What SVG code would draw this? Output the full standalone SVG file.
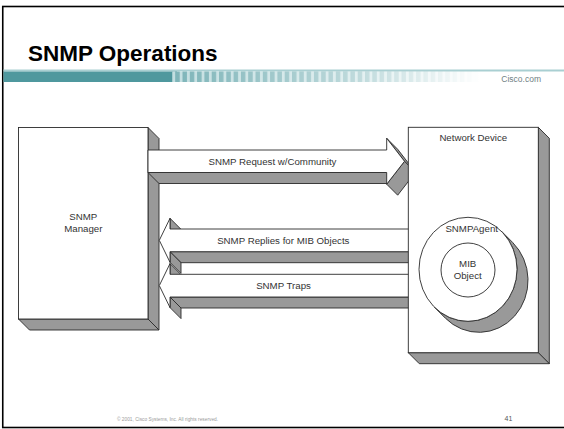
<svg xmlns="http://www.w3.org/2000/svg" width="564" height="429" viewBox="0 0 564 429">
  <defs>
    <style>
      .lbl{font-family:"Liberation Sans",Arial,sans-serif;font-size:9.7px;fill:#333;text-anchor:middle}
      .face{fill:#fff;stroke:#2a2a2a;stroke-width:0.9}
      .depth{fill:#999;stroke:#2a2a2a;stroke-width:0.9}
    </style>
    <pattern id="stripes" x="0" y="0" width="7.3" height="20" patternUnits="userSpaceOnUse">
      <rect width="7.3" height="20" fill="#c4dfe1"/>
      <rect width="4.5" height="20" fill="#7db4b8"/>
    </pattern>
    <linearGradient id="fade" x1="172" y1="0" x2="480" y2="0" gradientUnits="userSpaceOnUse">
      <stop offset="0" stop-color="#fff" stop-opacity="1"/>
      <stop offset="0.6" stop-color="#fff" stop-opacity="0.5"/>
      <stop offset="1" stop-color="#fff" stop-opacity="0"/>
    </linearGradient>
    <mask id="fadeMask" maskUnits="userSpaceOnUse" x="160" y="60" width="340" height="30">
      <rect x="160" y="60" width="340" height="30" fill="url(#fade)"/>
    </mask>
  </defs>

  <rect width="564" height="429" fill="#fff"/>

  <!-- slide frame -->
  <rect x="2.75" y="6.5" width="575" height="421" fill="none" stroke="#000" stroke-width="1.6"/>

  <!-- title and banner -->
  <text x="28" y="60.5" font-family="'Liberation Sans',Arial,sans-serif" font-weight="bold" font-size="22.5" fill="#000">SNMP Operations</text>
  <rect x="3.5" y="69.5" width="561" height="2" fill="#a9cfd2"/>
  <polygon points="3.5,71.5 177,71.5 172,82 3.5,82" fill="#4f989e"/>
  <rect x="172" y="71.5" width="310" height="10.5" fill="url(#stripes)" mask="url(#fadeMask)"/>
  <text x="541" y="82" text-anchor="end" font-family="'Liberation Sans',Arial,sans-serif" font-size="8.5" fill="#6f7f84">Cisco.com</text>

  <!-- SNMP Manager -->
  <g id="manager">
    <polygon class="depth" points="148,127.5 159,138.5 159,330 148,319"/>
    <polygon class="depth" points="18.5,319 148,319 159,330 29.5,330"/>
    <rect class="face" x="18.5" y="127.5" width="129.5" height="191.5"/>
    <text class="lbl" x="83.3" y="219.5">SNMP</text>
    <text class="lbl" x="83.3" y="231.5">Manager</text>
  </g>

  <!-- block arrows between manager and device -->
  <g id="connectors">
    <g id="request">
      <polygon class="depth" points="148,172.5 386.7,172.5 397.7,183.5 159,183.5"/>
      <polygon class="depth" points="386.7,138.3 397.7,149.3 415.5,172.3 404.5,161.3"/>
      <polygon class="depth" points="404.5,161.3 386.7,184.2 397.7,195.2 415.5,172.3"/>
      <polygon class="face" points="148,150 386.7,150 386.7,138.3 404.5,161.3 386.7,184.2 386.7,172.5 148,172.5"/>
      <text class="lbl" x="272.5" y="165">SNMP Request w/Community</text>
    </g>
    <g id="replies">
      <polygon class="depth" points="170,218.3 181,229.3 181,240 170,229"/>
      <polygon class="depth" points="170,251.7 412,251.7 412,262.7 181,262.7"/>
      <polygon class="depth" points="170,251.7 170,262.3 181,273.3 181,262.7"/>
      <polygon class="face" points="412,229 170,229 170,218.3 159.3,240.3 170,262.3 170,251.7 412,251.7"/>
      <text class="lbl" x="283.3" y="243.5">SNMP Replies for MIB Objects</text>
    </g>
    <g id="traps">
      <polygon class="depth" points="170,263.6 181,274.6 181,285.3 170,274.3"/>
      <polygon class="depth" points="170,297 412,297 412,308 181,308"/>
      <polygon class="depth" points="170,297 170,307.6 181,318.6 181,308"/>
      <polygon class="face" points="412,274.3 170,274.3 170,263.6 159.3,285.6 170,307.6 170,297 412,297"/>
      <text class="lbl" x="283.5" y="288.8">SNMP Traps</text>
    </g>
  </g>

  <!-- Network Device with agent -->
  <g id="device">
    <polygon class="depth" points="538.3,127.3 549.3,138.3 549.3,363.7 538.3,352.7"/>
    <polygon class="depth" points="408.3,352.7 538.3,352.7 549.3,363.7 419.3,363.7"/>
    <rect class="face" x="408.3" y="127.3" width="130" height="225.4"/>
    <text class="lbl" x="473.3" y="140.7">Network Device</text>
  </g>

  <g id="agent">
    <path class="depth" d="M501.6,231.4 L512.6,242.4 A49,52 0 0 1 445.4,318.2 L434.4,307.2 A49,52 0 0 0 501.6,231.4 Z"/>
    <ellipse class="face" cx="468" cy="269.3" rx="49" ry="52"/>
    <text class="lbl" x="471.7" y="231.7">SNMPAgent</text>
  </g>

  <g id="mib">
    <circle class="face" cx="468" cy="270" r="27"/>
    <text class="lbl" x="467.7" y="266.7">MIB</text>
    <text class="lbl" x="467.7" y="278.5">Object</text>
  </g>

  <!-- footer -->
  <text x="167.5" y="420.5" text-anchor="middle" font-family="'Liberation Sans',Arial,sans-serif" font-size="4.8" fill="#9a9a9a">© 2001, Cisco Systems, Inc. All rights reserved.</text>
  <text x="508.5" y="420.5" text-anchor="middle" font-family="'Liberation Sans',Arial,sans-serif" font-size="7" fill="#555">41</text>
</svg>
